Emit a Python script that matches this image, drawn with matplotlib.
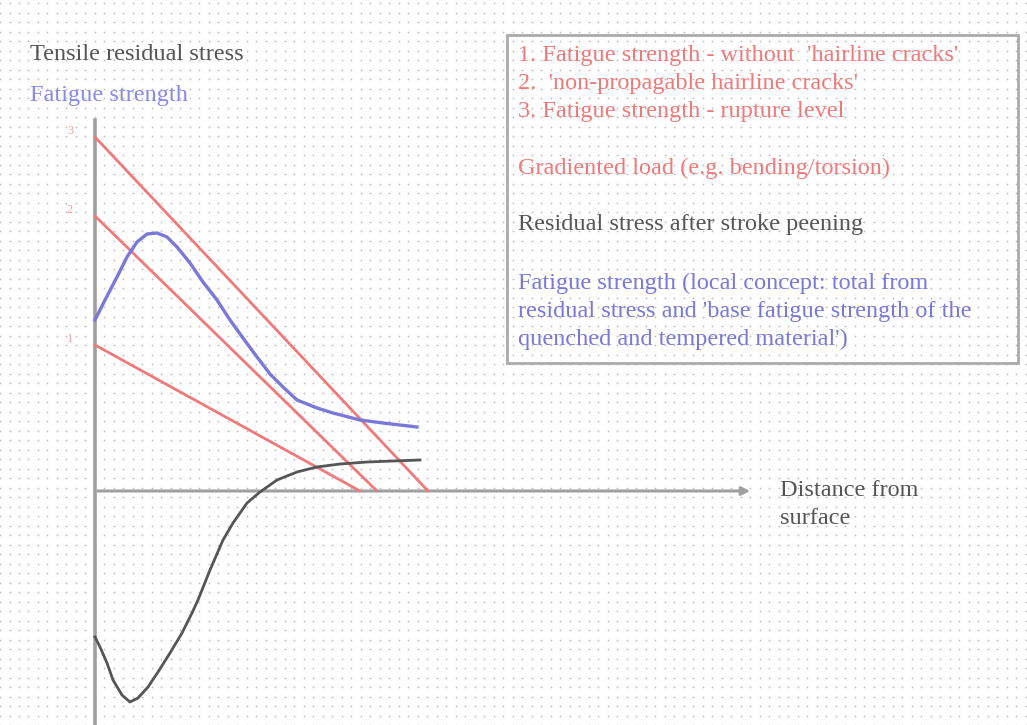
import numpy as np
import matplotlib.pyplot as plt

# --- DATA (distance from surface vs. stress, arbitrary units) ---
# straight fatigue-strength levels: (start stress at surface, depth where they hit zero)
level_names = ["1", "2", "3"]
level_start = [14.6, 27.5, 35.4]
level_end = [26.5, 28.2, 33.3]

# fatigue strength (local concept)
fatigue_x = [0.0, 1.0, 2.2, 3.2, 4.2, 5.2, 6.2, 7.2, 8.2, 9.5, 10.8, 12.2, 13.5,
             14.8, 16.2, 17.5, 18.8, 20.2, 22.2, 23.8, 26.5, 28.8, 32.2]
fatigue_y = [17.1, 19.1, 21.4, 23.4, 24.9, 25.7, 25.8, 25.4, 24.4, 22.8, 20.9, 19.1, 17.1,
             15.3, 13.4, 11.7, 10.4, 9.1, 8.3, 7.8, 7.1, 6.8, 6.4]

# residual stress after stroke peening
resid_x = [0.0, 0.5, 1.2, 1.8, 2.7, 3.5, 4.3, 5.3, 6.3, 7.5, 8.7, 9.7, 10.3, 11.5,
           12.8, 13.8, 15.2, 16.5, 18.2, 20.2, 22.2, 24.5, 27.2, 29.8, 32.5]
resid_y = [-14.6, -15.6, -17.2, -18.9, -20.4, -21.1, -20.7, -19.6, -18.1, -16.2, -14.2,
           -12.2, -10.9, -7.9, -4.9, -3.2, -1.2, -0.1, 1.1, 1.9, 2.4, 2.7, 2.9, 3.0, 3.1]

RED = '#f07a7a'
BLUE = '#7a78d8'
GRAY = '#555555'
SERIF = ['Liberation Serif', 'DejaVu Serif']

fig = plt.figure(figsize=(10.27, 7.25), dpi=100, facecolor='white')
ax = fig.add_axes([0, 0, 1, 1])
ax.set_xlim(-9.5, 93.2)
ax.set_ylim(-23.4, 49.1)
ax.axis('off')

# dotted paper background
gx, gy = np.meshgrid(np.arange(-9.5, 93.2, 0.95), np.arange(-23.4, 49.1, 0.95))
ax.scatter(gx.ravel(), gy.ravel(), s=1.6, color='#bdbdbd', linewidths=0, zorder=0)

# axes of the sketch
ax.plot([0, 0], [-23.4, 37.1], color='#a0a0a0', lw=2.6, zorder=1)
ax.annotate('', xy=(65.8, 0), xytext=(0, 0),
            arrowprops=dict(arrowstyle='-|>', color='#a0a0a0', lw=2.2,
                            mutation_scale=12), zorder=1)

# red levels
for name, s, e in zip(level_names, level_start, level_end):
    ax.plot([0, e], [s, 0], color=RED, lw=2.0, solid_capstyle='round', zorder=2)
    ax.text(-2.5, s + 0.6, name, color='#f5a0a0', fontsize=9, family=SERIF,
            ha='center', va='center')

ax.plot(fatigue_x, fatigue_y, color=BLUE, lw=2.4, solid_joinstyle='round', zorder=3)
ax.plot(resid_x, resid_y, color=GRAY, lw=2.0, solid_joinstyle='round', zorder=3)

# titles on the left
fs = 17.5
fig.text(30 / 1027, 1 - 55 / 725, 'Tensile residual stress', color='#555555',
         fontsize=fs, family=SERIF, va='center')
fig.text(30 / 1027, 1 - 95 / 725, 'Fatigue strength', color='#8a8ae6',
         fontsize=fs, family=SERIF, va='center')

# legend box
box = plt.Rectangle((507 / 1027, 1 - 363 / 725), 511 / 1027, 328 / 725,
                    transform=fig.transFigure, fill=False, edgecolor='#aaaaaa', lw=2)
fig.patches.append(box)

legend_lines = [
    ("1. Fatigue strength - without  'hairline cracks'", RED, 55),
    ("2.  'non-propagable hairline cracks'", RED, 83),
    ("3. Fatigue strength - rupture level", RED, 112),
    ("Gradiented load (e.g. bending/torsion)", RED, 168),
    ("Residual stress after stroke peening", GRAY, 225),
    ("Fatigue strength (local concept: total from", BLUE, 283),
    ("residual stress and 'base fatigue strength of the", BLUE, 311),
    ("quenched and tempered material')", BLUE, 339),
]
for txt, col, ypx in legend_lines:
    fig.text(518 / 1027, 1 - ypx / 725, txt, color=col, fontsize=fs,
             family=SERIF, va='center')

fig.text(780 / 1027, 1 - 490 / 725, 'Distance from', color='#555555',
         fontsize=fs, family=SERIF, va='center')
fig.text(780 / 1027, 1 - 519 / 725, 'surface', color='#555555',
         fontsize=fs, family=SERIF, va='center')

fig.savefig('out.png', dpi=100, facecolor='white')
